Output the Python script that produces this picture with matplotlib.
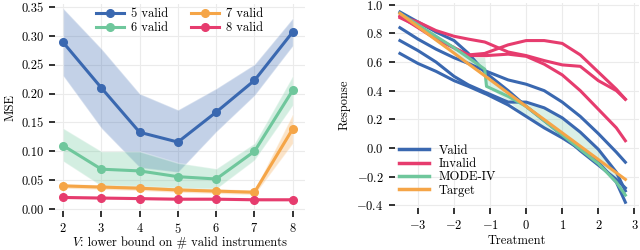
import numpy as np
import matplotlib
matplotlib.use("Agg")
import matplotlib.pyplot as plt
from matplotlib.offsetbox import TextArea, HPacker, AnchoredOffsetbox

plt.rcParams["font.family"] = "serif"
plt.rcParams["font.serif"] = ["cmr10"]
plt.rcParams["mathtext.fontset"] = "cm"
plt.rcParams["axes.formatter.use_mathtext"] = True
plt.rcParams["font.size"] = 9

BLUE = "#3a68b0"
GREEN = "#6fc79c"
ORANGE = "#f5a547"
PINK = "#e63c6e"

# left panel: MSE vs lower bound V
v_bound = [2, 3, 4, 5, 6, 7, 8]
mse_5 = [0.289, 0.210, 0.133, 0.116, 0.168, 0.223, 0.307]
lo_5 = [0.231, 0.140, 0.072, 0.064, 0.134, 0.197, 0.283]
hi_5 = [0.348, 0.278, 0.200, 0.172, 0.209, 0.251, 0.331]
mse_6 = [0.110, 0.069, 0.066, 0.056, 0.052, 0.100, 0.206]
lo_6 = [0.083, 0.040, 0.036, 0.035, 0.035, 0.085, 0.180]
hi_6 = [0.140, 0.100, 0.100, 0.080, 0.070, 0.114, 0.231]
mse_7 = [0.040, 0.038, 0.036, 0.033, 0.031, 0.029, 0.139]
lo_7 = [0.036, 0.034, 0.032, 0.029, 0.027, 0.025, 0.114]
hi_7 = [0.044, 0.042, 0.040, 0.037, 0.035, 0.033, 0.165]
mse_8 = [0.020, 0.019, 0.018, 0.017, 0.017, 0.016, 0.016]
lo_8 = [0.018, 0.017, 0.016, 0.015, 0.015, 0.014, 0.014]
hi_8 = [0.022, 0.021, 0.020, 0.019, 0.019, 0.018, 0.018]

# right panel: response curves
treat = [-3.5, -3.0, -2.5, -2.0, -1.6, -1.15, -1.1, -0.5, 0.0, 0.5, 1.0, 1.5, 2.0, 2.5, 2.75]
target = [0.94, 0.847, 0.754, 0.662, 0.587, 0.504, 0.495, 0.383, 0.290, 0.198, 0.105, 0.012, -0.081, -0.174, -0.220]
mode_iv = [0.94, 0.86, 0.78, 0.70, 0.63, 0.55, 0.43, 0.36, 0.29, 0.19, 0.09, -0.01, -0.11, -0.24, -0.33]
mode_hi = [0.94, 0.86, 0.78, 0.70, 0.635, 0.635, 0.50, 0.38, 0.32, 0.29, 0.21, 0.10, -0.02, -0.18, -0.27]
mode_lo = [0.94, 0.85, 0.75, 0.66, 0.59, 0.50, 0.43, 0.33, 0.22, 0.14, 0.07, -0.01, -0.10, -0.24, -0.33]
valid_1 = [0.95, 0.88, 0.81, 0.75, 0.66, 0.53, 0.52, 0.40, 0.29, 0.19, 0.09, -0.02, -0.12, -0.22, -0.28]
valid_2 = [0.84, 0.76, 0.69, 0.63, 0.59, 0.54, 0.535, 0.475, 0.445, 0.40, 0.32, 0.22, 0.10, -0.03, -0.10]
valid_3 = [0.75, 0.68, 0.60, 0.50, 0.44, 0.39, 0.385, 0.32, 0.32, 0.28, 0.21, 0.11, -0.01, -0.17, -0.30]
valid_4 = [0.66, 0.59, 0.535, 0.47, 0.43, 0.38, 0.375, 0.30, 0.22, 0.14, 0.07, -0.01, -0.10, -0.24, -0.38]
invalid_1 = [0.92, 0.88, 0.82, 0.78, 0.76, 0.74, 0.735, 0.67, 0.645, 0.61, 0.58, 0.57, 0.47, 0.40, 0.34]
invalid_2 = [0.92, 0.84, 0.76, 0.70, 0.65, 0.66, 0.665, 0.72, 0.75, 0.75, 0.73, 0.65, 0.53, 0.41, 0.34]
invalid_3 = [0.91, 0.85, 0.77, 0.70, 0.645, 0.645, 0.645, 0.655, 0.64, 0.585, 0.51, 0.40, 0.27, 0.14, 0.05]

fig = plt.figure(figsize=(6.4, 2.5), dpi=100)
ax1 = fig.add_axes([0.086, 0.156, 0.39, 0.827])
ax2 = fig.add_axes([0.617, 0.168, 0.381, 0.822])

for ax in (ax1, ax2):
    ax.grid(True, color="#ebebeb", lw=0.8)
    ax.set_axisbelow(True)
    for s in ax.spines.values():
        s.set_visible(False)
    ax.tick_params(length=4, width=1.3, color="#222222", pad=4, labelsize=9)

series = [
    ("5 valid", mse_5, lo_5, hi_5, BLUE),
    ("6 valid", mse_6, lo_6, hi_6, GREEN),
    ("7 valid", mse_7, lo_7, hi_7, ORANGE),
    ("8 valid", mse_8, lo_8, hi_8, PINK),
]
for name, m, lo, hi, c in series:
    ax1.fill_between(v_bound, lo, hi, color=c, alpha=0.3, lw=1.0, edgecolor=(1, 1, 1, 0.5))
for name, m, lo, hi, c in series:
    ax1.plot(v_bound, m, "-o", color=c, lw=2.2, ms=5.5, label=name)

ax1.set_xlim(1.79, 8.31)
ax1.set_ylim(-0.0035, 0.355)
ax1.set_xticks(v_bound)
ax1.set_yticks(np.arange(0, 0.36, 0.05))
ax1.yaxis.set_major_formatter(matplotlib.ticker.FormatStrFormatter("%.2f"))
ax1.set_ylabel("MSE", labelpad=4)
ax1.legend(ncol=2, loc="upper center", bbox_to_anchor=(0.5, 1.035), frameon=False,
           fontsize=9, handlelength=2.2, columnspacing=1.8, labelspacing=0.15,
           handletextpad=0.6)

# x label with italic V (math italic font), built from two pieces
xlab = HPacker(children=[TextArea("V", textprops=dict(family="cmmi10", size=9)),
                         TextArea(": lower bound on # valid instruments", textprops=dict(size=9))],
               pad=0, sep=0, align="baseline")
fig.add_artist(AnchoredOffsetbox(loc="center", child=xlab, frameon=False, pad=0, borderpad=0,
                                 bbox_to_anchor=(0.281, 0.03), bbox_transform=fig.transFigure))

# right panel
ax2.fill_between(treat, mode_lo, mode_hi, color=GREEN, alpha=0.25, lw=0)
for v in (valid_1, valid_2, valid_3, valid_4):
    ax2.plot(treat, v, color=BLUE, lw=2.2)
for v in (invalid_1, invalid_2, invalid_3):
    ax2.plot(treat, v, color=PINK, lw=2.2)
ax2.plot(treat, mode_iv, color=GREEN, lw=2.2)
ax2.plot(treat, target, color=ORANGE, lw=2.2)

handles = [plt.Line2D([], [], color=c, lw=2.5) for c in (BLUE, PINK, GREEN, ORANGE)]
ax2.legend(handles, ["Valid", "Invalid", "MODE-IV", "Target"], loc="lower left",
           bbox_to_anchor=(-0.03, 0.0), frameon=False, fontsize=9, handlelength=2.4,
           labelspacing=0.1, handletextpad=0.8)

ax2.set_xlim(-3.64, 3.12)
ax2.set_ylim(-0.42, 1.016)
ax2.set_xticks([-3, -2, -1, 0, 1, 2, 3])
ax2.set_yticks([-0.4, -0.2, 0.0, 0.2, 0.4, 0.6, 0.8, 1.0])
ax2.set_xlabel("Treatment", labelpad=2)
ax2.set_ylabel("Response", labelpad=4)

fig.savefig("out.png", dpi=100)
